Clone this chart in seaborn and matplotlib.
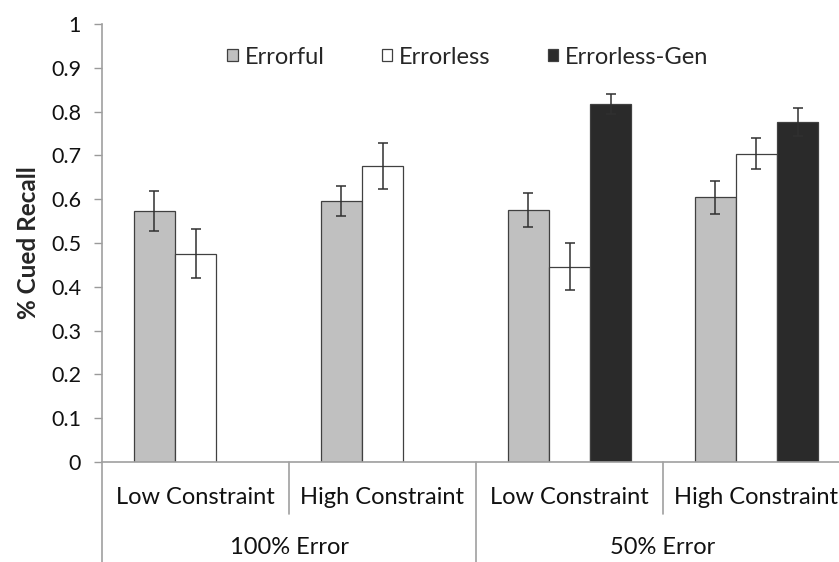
import numpy as np
import pandas as pd
import matplotlib
matplotlib.use("Agg")
import matplotlib.pyplot as plt
import matplotlib.transforms as mtransforms
import seaborn as sns

# Cued recall by condition
conditions = ["100% Error / Low", "100% Error / High", "50% Error / Low", "50% Error / High"]
constraint_labels = ["Low Constraint", "High Constraint", "Low Constraint", "High Constraint"]
error_labels = ["100% Error", "50% Error"]
methods = ["Errorful", "Errorless", "Errorless-Gen"]

errorful_mean = [0.573, 0.595, 0.576, 0.604]
errorful_err = [0.045, 0.034, 0.039, 0.038]
errorless_mean = [0.476, 0.676, 0.446, 0.704]
errorless_err = [0.057, 0.053, 0.054, 0.036]
gen_conditions = ["50% Error / Low", "50% Error / High"]
gen_mean = [0.818, 0.777]
gen_err = [0.023, 0.032]

rows = []
for c, m, e in zip(conditions, errorful_mean, errorful_err):
    rows.append({"condition": c, "method": "Errorful", "recall": m, "err": e})
for c, m, e in zip(conditions, errorless_mean, errorless_err):
    rows.append({"condition": c, "method": "Errorless", "recall": m, "err": e})
for c, m, e in zip(gen_conditions, gen_mean, gen_err):
    rows.append({"condition": c, "method": "Errorless-Gen", "recall": m, "err": e})
df = pd.DataFrame(rows)

sns.set_theme(style="white")
plt.rcParams["font.family"] = ["Lato", "DejaVu Sans"]

W, H = 839, 562
fig = plt.figure(figsize=(W / 100, H / 100), dpi=100)
left_px, right_px, top_px, bot_px = 102, 850, 24, 462
ax = fig.add_axes([left_px / W, 1 - bot_px / H, (right_px - left_px) / W, (bot_px - top_px) / H])

palette = {"Errorful": "#c0c0c0", "Errorless": "#ffffff", "Errorless-Gen": "#2a2a2a"}
sns.barplot(data=df, x="condition", y="recall", hue="method", order=conditions,
            hue_order=methods, palette=palette, width=0.66, errorbar=None,
            edgecolor="#404040", linewidth=0.9, saturation=1, ax=ax)

# error bars at the centre of each drawn bar
err_lookup = {(r.method, r.condition): r.err for r in df.itertuples()}
for method, cont in zip(methods, ax.containers):
    for patch in cont.patches:
        h = patch.get_height()
        if not np.isfinite(h):
            continue
        xc = patch.get_x() + patch.get_width() / 2
        cond = conditions[int(round(xc))]
        ax.errorbar(xc, h, yerr=err_lookup[(method, cond)], color="#303030",
                    elinewidth=1.1, capsize=3.6, capthick=1.1, zorder=5)

ax.set_ylim(0, 1)
ax.set_xlim(-0.5, 3.5)
ax.set_yticks(np.arange(0, 1.01, 0.1))
ax.set_yticklabels(["0"] + [f"{v:.1f}" for v in np.arange(0.1, 0.95, 0.1)] + ["1"])
ax.tick_params(axis="y", which="both", left=True, length=6, width=1, color="#9a9a9a",
               labelsize=15.5, pad=9, labelcolor="#111111")
ax.set_xticks([])
ax.set_xlabel("")
ax.set_ylabel("% Cued Recall", fontsize=17.5, fontweight="bold", labelpad=8)

for side in ["top", "right"]:
    ax.spines[side].set_visible(False)
for side in ["left", "bottom"]:
    ax.spines[side].set_color("#a0a0a0")
    ax.spines[side].set_linewidth(1.2)

# hierarchical category axis
trans = mtransforms.blended_transform_factory(ax.transData, ax.transAxes)
ax_h = bot_px - top_px
inner_end = -(514 - bot_px) / ax_h
outer_end = -(H - bot_px + 2) / ax_h
for i in range(len(conditions) + 1):
    xb = i - 0.5
    if i % 2 == 0:
        ax.plot([xb, xb], [0, outer_end], transform=trans, color="#a0a0a0", lw=1.2, clip_on=False)
    else:
        ax.plot([xb, xb], [0, inner_end], transform=trans, color="#a0a0a0", lw=1.2, clip_on=False)

row1_y = -(498 - bot_px) / ax_h
row2_y = -(548 - bot_px) / ax_h
for i, lab in enumerate(constraint_labels):
    ax.text(i, row1_y, lab, transform=trans, ha="center", va="center", fontsize=17, color="#111111")
for j, lab in enumerate(error_labels):
    ax.text(2 * j + 0.5, row2_y, lab, transform=trans, ha="center", va="center", fontsize=17, color="#111111")

handles, labels = ax.get_legend_handles_labels()
ax.legend(handles, labels, ncol=3, frameon=False, loc="center",
          bbox_to_anchor=((468 - left_px) / (right_px - left_px), (bot_px - 57) / ax_h),
          fontsize=17, handlelength=0.45, handleheight=0.45, handletextpad=0.3,
          columnspacing=2.4)

fig.savefig("out.png", dpi=100)
